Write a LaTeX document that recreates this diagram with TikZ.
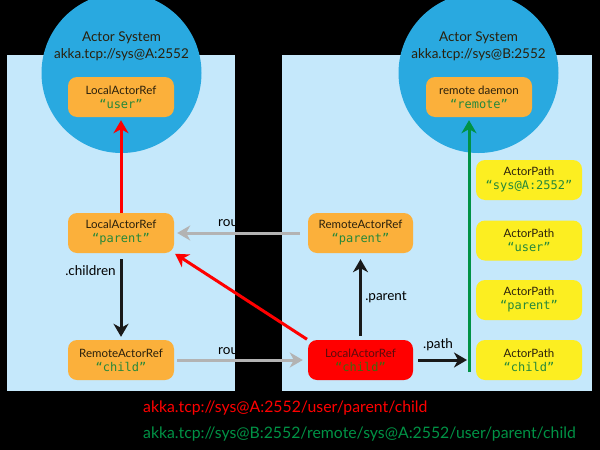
\documentclass[tikz,border=0pt]{standalone}
\usepackage{fontspec}
\setmainfont{Lato}
\newfontfamily\monof{DejaVu Sans Mono}
\usetikzlibrary{arrows.meta,calc}
\definecolor{bgpanel}{HTML}{C5E8FB}
\definecolor{sysblue}{HTML}{29A9E0}
\definecolor{boxorange}{HTML}{FBB03B}
\definecolor{boxyellow}{HTML}{FCEE21}
\definecolor{boxred}{HTML}{FF0000}
\definecolor{qgreen}{HTML}{25883A}
\definecolor{pathgreen}{HTML}{009245}
\definecolor{arrgray}{HTML}{B3B3B3}
\definecolor{txtdark}{HTML}{2A200C}
\definecolor{txtmaroon}{HTML}{5A0C0C}
\definecolor{qdark}{HTML}{3C6A10}
\tikzset{
  refbox/.style={rounded corners=9pt, minimum width=106pt, minimum height=40pt, inner sep=0pt,
    align=center, font=\fontsize{11.5}{14}\selectfont, text=txtdark},
  orangebox/.style={refbox, fill=boxorange},
  yellowbox/.style={refbox, fill=boxyellow},
  redbox/.style={refbox, fill=boxred, text=txtmaroon},
  sysnode/.style={circle, fill=sysblue, minimum size=160pt, inner sep=0pt},
  systext/.style={align=center, font=\fontsize{13.5}{17}\selectfont, text=txtdark},
  lbl/.style={font=\fontsize{13.5}{15}\selectfont, text=black, inner sep=0pt},
  blackarr/.style={draw=black!90, line width=3pt, -{Stealth[length=13pt,width=15pt,inset=4pt]}},
  grayarr/.style={draw=arrgray, line width=3pt, -{Stealth[length=13pt,width=15pt,inset=4pt]}},
  redarr/.style={draw=boxred, line width=3pt, -{Stealth[length=13pt,width=15pt,inset=4pt]}},
  greenarr/.style={draw=pathgreen, line width=3pt, -{Stealth[length=13pt,width=15pt,inset=4pt]}},
  bottomtxt/.style={font=\fontsize{15.8}{18}\selectfont, anchor=west, inner sep=0pt}
}
\newcommand{\qq}[2][qgreen]{{\monof\fontsize{12}{14}\selectfont\color{#1}“#2”}}
\begin{document}
\begin{tikzpicture}[x=1pt,y=-1pt]
\fill[black] (0,0) rectangle (600,450);
\useasboundingbox (0,0) rectangle (600,450);
% panels
\fill[bgpanel] (7,55) rectangle (235,391);
\fill[bgpanel] (282,55) rectangle (592,391);
% actor systems
\node[sysnode] (sysA) at (121.5,73) {};
\node[sysnode] (sysB) at (478.5,73) {};
\node[systext] (sysAt) at (121.5,46.5) {Actor System\\akka.tcp://sys@A:2552};
\node[systext] (sysBt) at (478.5,46.5) {Actor System\\akka.tcp://sys@B:2552};
% boxes
\node[orangebox] (user) at (121,97) {LocalActorRef\\\qq{user}};
\node[orangebox] (remote) at (479,97) {remote daemon\\\qq{remote}};
\node[orangebox] (pL) at (121,233) {LocalActorRef\\\qq{parent}};
\node[orangebox] (cR) at (121,360) {RemoteActorRef\\\qq{child}};
\node[orangebox, minimum width=105pt] (rP) at (360.5,233) {RemoteActorRef\\\qq{parent}};
\node[redbox, minimum width=105pt] (lC) at (360.5,360) {LocalActorRef\\\qq[qdark]{child}};
\node[yellowbox] (ySys) at (529,180) {ActorPath\\\qq{sys@A:2552}};
\node[yellowbox] (yUser) at (529,240.5) {ActorPath\\\qq{user}};
\node[yellowbox] (yParent) at (529,300) {ActorPath\\\qq{parent}};
\node[yellowbox] (yChild) at (529,360) {ActorPath\\\qq{child}};
% coordinates
\coordinate (gbot) at (469,372);
\coordinate (ptip) at (467,360);
% connectors
\draw[redarr, shorten >=3pt] (pL.north) -- (user.south);
\draw[blackarr, shorten <=6pt, shorten >=3pt] (pL.south) -- (cR.north);
\draw[blackarr, shorten <=4pt, shorten >=6pt] (lC.north) -- (rP.south);
\draw[grayarr, shorten <=8pt, shorten >=3pt] (rP.west) -- (pL.east);
\draw[grayarr, shorten <=3pt, shorten >=5pt] (cR.east) -- (lC.west);
\draw[redarr, shorten <=1pt, shorten >=1pt] (lC.north west) -- (pL.south east);
\draw[blackarr, shorten <=5pt] (lC.east) -- (ptip);
\draw[greenarr, shorten >=3pt] (gbot) -- (gbot |- remote.south);
% labels
\node[lbl] (lchildren) at (90.5,271) {.children};
\node[lbl] (lparent) at (386,297) {.parent};
\node[lbl] (lpath) at (438,345) {.path};
\node[lbl, anchor=west] (lroute1) at (218,222) {route};
\node[lbl, anchor=west] (lroute2) at (218,350) {route};
% bottom text
\node[bottomtxt, text=boxred] (pathA) at (143,408) {akka.tcp://sys@A:2552/user/parent/child};
\node[bottomtxt, text=pathgreen] (pathB) at (143,434) {akka.tcp://sys@B:2552/remote/sys@A:2552/user/parent/child};
\end{tikzpicture}
\end{document}
